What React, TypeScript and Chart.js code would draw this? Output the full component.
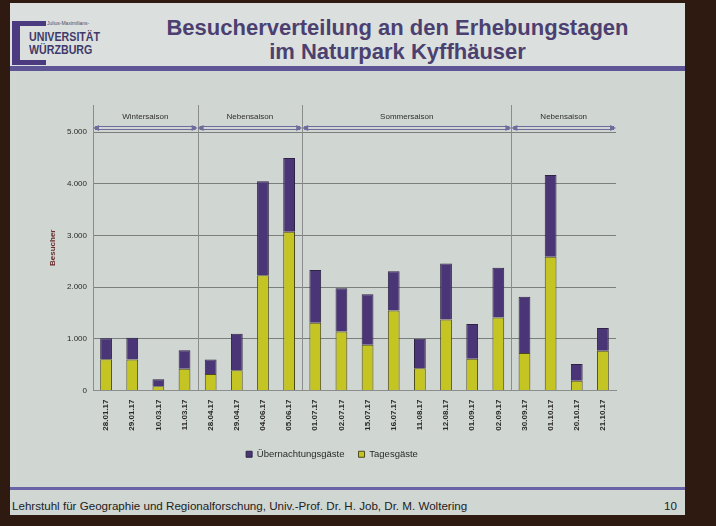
import React, { useEffect, useRef } from "react";
import { Chart, registerables } from "chart.js";

Chart.register(...registerables);

const dates = [
  "28.01.17", "29.01.17", "10.03.17", "11.03.17", "28.04.17", "29.04.17",
  "04.06.17", "05.06.17", "01.07.17", "02.07.17", "15.07.17", "16.07.17",
  "11.08.17", "12.08.17", "01.09.17", "02.09.17", "30.09.17", "01.10.17",
  "20.10.17", "21.10.17",
];
const tagesgaeste = [605, 600, 80, 420, 320, 390, 2230, 3070, 1310, 1140, 885, 1550, 430, 1375, 615, 1415, 725, 2590, 190, 770];
const uebernachtungsgaeste = [405, 420, 140, 360, 280, 710, 1820, 1430, 1020, 840, 980, 760, 570, 1085, 670, 960, 1090, 1580, 325, 440];
const yTicks = [0, 1000, 2000, 3000, 4000, 5000];
const seasonNames = ["Wintersaison", "Nebensaison", "Sommersaison", "Nebensaison"];
const seasonStartIndex = [0, 4, 8, 16];
const arrowValue = 5080;
const seasonLabelValue = 5300;

const fmt = (v: number) => String(v).replace(/\B(?=(\d{3})+(?!\d))/g, ".");

const seasonPlugin = {
  id: "seasons",
  afterDatasetsDraw(chart: any) {
    const { ctx, chartArea, scales } = chart;
    const x = scales.x;
    const y = scales.y;
    const n = dates.length;
    const bound = (i: number) => {
      if (i <= 0) return chartArea.left;
      if (i >= n) return chartArea.right;
      return (x.getPixelForValue(i - 1) + x.getPixelForValue(i)) / 2;
    };
    ctx.save();
    ctx.strokeStyle = "#8a8d8c";
    ctx.lineWidth = 1;
    seasonStartIndex.forEach((s) => {
      if (s === 0) return;
      const px = Math.round(bound(s)) + 0.5;
      ctx.beginPath();
      ctx.moveTo(px, chartArea.top);
      ctx.lineTo(px, chartArea.bottom);
      ctx.stroke();
    });
    const ya = y.getPixelForValue(arrowValue);
    const yl = y.getPixelForValue(seasonLabelValue);
    seasonStartIndex.forEach((s, k) => {
      const x0 = bound(s);
      const x1 = bound(k + 1 < seasonStartIndex.length ? seasonStartIndex[k + 1] : n);
      ctx.strokeStyle = "#6e6c9c";
      ctx.lineWidth = 1;
      ctx.beginPath();
      ctx.moveTo(x0 + 2, ya - 1.5);
      ctx.lineTo(x1 - 2, ya - 1.5);
      ctx.moveTo(x0 + 2, ya + 1.5);
      ctx.lineTo(x1 - 2, ya + 1.5);
      ctx.stroke();
      ctx.fillStyle = "#6e6c9c";
      ctx.beginPath();
      ctx.moveTo(x0, ya);
      ctx.lineTo(x0 + 6, ya - 3);
      ctx.lineTo(x0 + 6, ya + 3);
      ctx.closePath();
      ctx.fill();
      ctx.beginPath();
      ctx.moveTo(x1, ya);
      ctx.lineTo(x1 - 6, ya - 3);
      ctx.lineTo(x1 - 6, ya + 3);
      ctx.closePath();
      ctx.fill();
      ctx.fillStyle = "#2f2f2f";
      ctx.font = "8px 'Liberation Sans', Arial, sans-serif";
      ctx.textAlign = "center";
      ctx.textBaseline = "middle";
      ctx.fillText(seasonNames[k], (x0 + x1) / 2, yl);
    });
    ctx.restore();
  },
};

export default function App() {
  const ref = useRef<HTMLCanvasElement | null>(null);

  useEffect(() => {
    if (!ref.current) return;
    const chart = new Chart(ref.current, {
      type: "bar",
      data: {
        labels: dates,
        datasets: [
          {
            label: "Tagesgäste",
            data: tagesgaeste,
            backgroundColor: "#c4c423",
            borderColor: "#4b4a1c",
            borderWidth: 1,
            barPercentage: 0.45,
            categoryPercentage: 1,
          },
          {
            label: "Übernachtungsgäste",
            data: uebernachtungsgaeste,
            backgroundColor: "#4a3676",
            borderColor: "#2f2445",
            borderWidth: 1,
            barPercentage: 0.45,
            categoryPercentage: 1,
          },
        ],
      },
      options: {
        animation: false,
        responsive: false,
        layout: { padding: { left: 38, right: 64, top: 27, bottom: 14 } },
        plugins: {
          legend: {
            position: "bottom",
            reverse: true,
            labels: {
              boxWidth: 6,
              boxHeight: 6,
              padding: 14,
              color: "#2a2a2a",
              font: { size: 9.5, family: "'Liberation Sans', Arial, sans-serif" },
            },
          },
          tooltip: { enabled: false },
        },
        scales: {
          x: {
            stacked: true,
            grid: { display: false },
            border: { display: true, color: "#8a8d8c" },
            ticks: {
              minRotation: 90,
              maxRotation: 90,
              padding: 1,
              color: "#2a2a2a",
              font: { size: 8, weight: "bold", family: "'Liberation Sans', Arial, sans-serif" },
            },
            afterFit(scale: any) {
              scale.height = 45;
            },
          },
          y: {
            stacked: true,
            min: 0,
            max: 5525,
            afterBuildTicks(scale: any) {
              scale.ticks = yTicks.map((v) => ({ value: v }));
            },
            afterFit(scale: any) {
              scale.width = 45;
            },
            grid: { color: "#7b7e7c", drawTicks: false },
            border: { display: true, color: "#8a8d8c" },
            ticks: {
              padding: 6,
              color: "#2a2a2a",
              font: { size: 8, family: "'Liberation Sans', Arial, sans-serif" },
              callback: (v: any) => fmt(Number(v)),
            },
            title: {
              display: true,
              text: "Besucher",
              color: "#6a2e2e",
              font: { size: 8, weight: "bold", family: "'Liberation Sans', Arial, sans-serif" },
              padding: { top: 0, bottom: 0 },
            },
          },
        },
      },
      plugins: [seasonPlugin],
    });
    return () => chart.destroy();
  }, []);

  const font = "'Liberation Sans', Arial, sans-serif";
  const purple = "#4b3a80";

  return (
    <div
      style={{
        position: "fixed",
        left: 0,
        top: 0,
        width: 716,
        height: 526,
        background: "#2f1a12",
        overflow: "hidden",
        fontFamily: font,
      }}
    >
      <div style={{ position: "absolute", left: 10, top: 3, width: 675, height: 512, background: "#d0d6d2" }} />
      <div style={{ position: "absolute", left: 10, top: 3, width: 675, height: 63, background: "#dbe0df" }} />
      <div style={{ position: "absolute", left: 12, top: 21, width: 34, height: 5, background: purple }} />
      <div style={{ position: "absolute", left: 12, top: 21, width: 8, height: 44, background: purple }} />
      <div style={{ position: "absolute", left: 12, top: 60, width: 34, height: 5, background: purple }} />
      <div style={{ position: "absolute", left: 47, top: 20, fontSize: 5, color: "#4a4a6a", whiteSpace: "nowrap" }}>
        Julius-Maximilians-
      </div>
      <div
        style={{
          position: "absolute",
          left: 29,
          top: 30,
          fontSize: 13,
          fontWeight: "bold",
          color: "#3f3a6a",
          whiteSpace: "nowrap",
          lineHeight: "13px",
          transform: "scaleX(0.82)",
          transformOrigin: "left top",
        }}
      >
        UNIVERSITÄT
        <br />
        WÜRZBURG
      </div>
      <div
        style={{
          position: "absolute",
          left: 110,
          width: 575,
          top: 16,
          textAlign: "center",
          fontSize: 22,
          fontWeight: "bold",
          lineHeight: "24px",
          color: "#4b4070",
        }}
      >
        Besucherverteilung an den Erhebungstagen
        <br />
        im Naturpark Kyffhäuser
      </div>
      <div style={{ position: "absolute", left: 10, top: 66, width: 675, height: 5, background: "#5d5596" }} />
      <canvas ref={ref} width={670} height={405} style={{ position: "absolute", left: 10, top: 78, width: 670, height: 405 }} />
      <div style={{ position: "absolute", left: 10, top: 487, width: 675, height: 3, background: "#6a63a8" }} />
      <div
        style={{
          position: "absolute",
          left: 12,
          top: 499,
          fontSize: 11.6,
          color: "#222",
          whiteSpace: "nowrap",
        }}
      >
        Lehrstuhl für Geographie und Regionalforschung, Univ.-Prof. Dr. H. Job, Dr. M. Woltering
      </div>
      <div style={{ position: "absolute", left: 664, top: 499, fontSize: 11.6, color: "#222" }}>10</div>
    </div>
  );
}
